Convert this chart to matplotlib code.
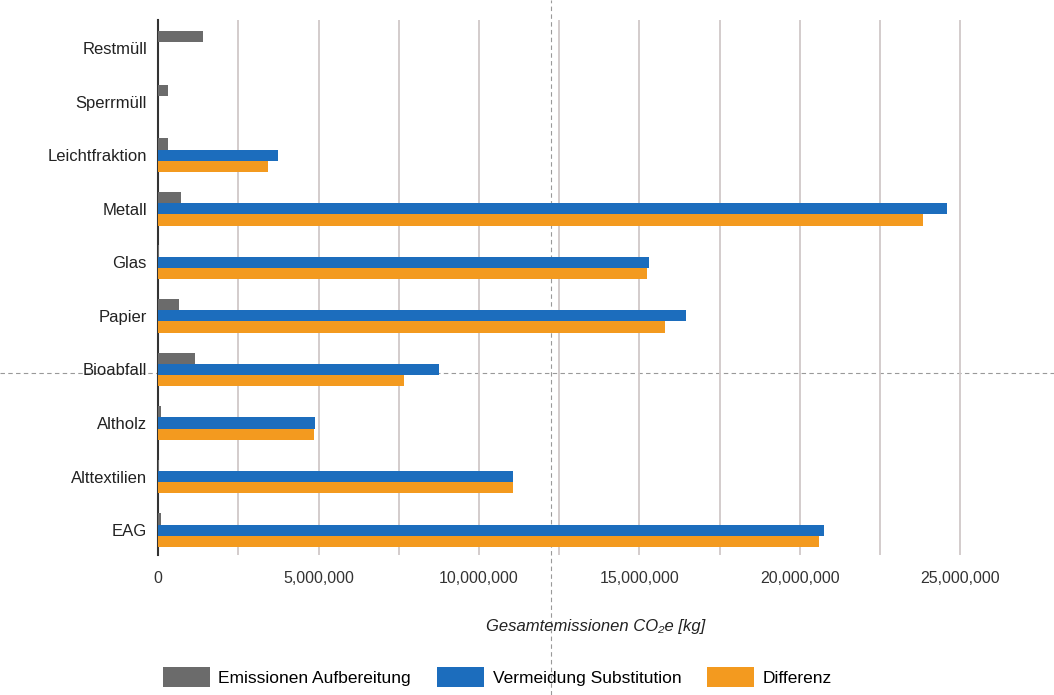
import matplotlib
matplotlib.use("Agg")
import matplotlib.pyplot as plt
import numpy as np
from matplotlib.lines import Line2D
from matplotlib.ticker import FuncFormatter, MultipleLocator

plt.rcParams['font.family'] = ['Liberation Sans', 'DejaVu Sans']

# data (kg CO2e)
categories = ['Restmüll', 'Sperrmüll', 'Leichtfraktion', 'Metall', 'Glas',
              'Papier', 'Bioabfall', 'Altholz', 'Alttextilien', 'EAG']
emissionen = [1400000, 300000, 300000, 700000, 30000,
              650000, 1150000, 100000, 30000, 80000]
vermeidung = [0, 0, 3740000, 24600000, 15300000,
              16450000, 8750000, 4900000, 11050000, 20750000]
differenz = [0, 0, 3430000, 23850000, 15250000,
             15800000, 7650000, 4850000, 11050000, 20600000]
labels = ['Emissionen Aufbereitung', 'Vermeidung Substitution', 'Differenz']
colors = ['#6b6b6b', '#1c6dbd', '#f39a1f']

fig = plt.figure(figsize=(10.54, 6.95), dpi=100)
ax = fig.add_axes([0.150, 0.201, 0.831, 0.770])

y = np.arange(len(categories))
h = 0.21
for i, (vals, col) in enumerate(zip([emissionen, vermeidung, differenz], colors)):
    ax.barh(y + (i - 1) * h, vals, height=h, color=col, label=labels[i], zorder=3)

ax.set_ylim(len(categories) - 1 + 0.47, -0.52)
ax.set_xlim(0, 27.3e6)
ax.set_yticks(y)
ax.set_yticklabels(categories, fontsize=12)
ax.xaxis.set_major_locator(MultipleLocator(5e6))
ax.xaxis.set_minor_locator(MultipleLocator(2.5e6))
ax.xaxis.set_major_formatter(FuncFormatter(lambda v, p: f'{int(v):,}'))
ax.tick_params(axis='x', labelsize=11.5, length=0, pad=11, colors='#333333')
ax.tick_params(axis='y', length=0, pad=8, colors='#222222')
ax.tick_params(which='minor', length=0)
ax.grid(axis='x', which='both', color='#d0c8c8', linewidth=1.3, zorder=0)

for s in ['top', 'right', 'bottom']:
    ax.spines[s].set_visible(False)
ax.spines['left'].set_color('#333333')
ax.spines['left'].set_linewidth(1.5)

ax.set_xlabel('Gesamtemissionen CO₂e [kg]', fontsize=12, style='italic',
              labelpad=24, color='#222222')

leg = fig.legend(loc='center', bbox_to_anchor=(0.472, 0.026), ncol=3,
                 frameon=False, fontsize=12.5, handlelength=2.7,
                 handleheight=1.4, columnspacing=1.5, handletextpad=0.5)

# scan crosshair lines, kept behind the bars
ax.add_line(Line2D([0.523, 0.523], [0, 1], transform=fig.transFigure,
                   color='#999999', lw=0.8, ls=(0, (4, 3)), clip_on=False, zorder=1))
ax.add_line(Line2D([0, 1], [0.463, 0.463], transform=fig.transFigure,
                   color='#999999', lw=0.8, ls=(0, (4, 3)), clip_on=False, zorder=1))

fig.savefig('out.png', dpi=100)
